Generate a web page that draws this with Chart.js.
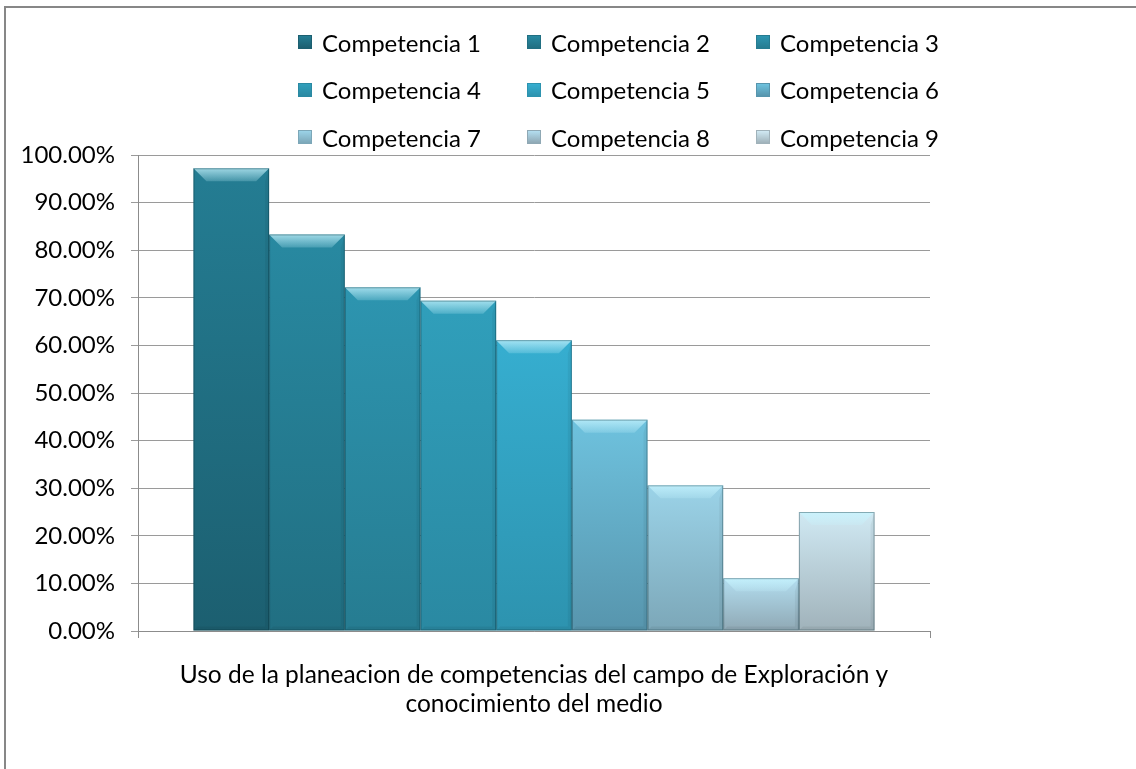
<!DOCTYPE html>
<html>
<head>
<meta charset="utf-8">
<script src="https://cdn.jsdelivr.net/npm/chart.js@4.4.0/dist/chart.umd.min.js"></script>
<style>
  html, body { margin: 0; padding: 0; background: #fff; }
  #wrap { position: relative; width: 1136px; height: 769px; overflow: hidden; }
  #frame { position: absolute; left: 4px; top: 6px; right: -10px; bottom: -10px;
           border-left: 2px solid #878787; border-top: 2px solid #878787; }
  canvas { position: absolute; left: 0; top: 0; }
  #legend { position: absolute; left: 0; top: 0; font-family: Lato, sans-serif; font-size: 24px; color: #000; }
  .item { position: absolute; display: flex; align-items: center; white-space: nowrap; height: 24px; }
  .sw { width: 14px; height: 14px; margin-right: 10px; box-sizing: border-box; }
</style>
</head>
<body>
<div id="wrap">
  <div id="frame"></div>
  <canvas id="myChart" width="1136" height="769"></canvas>
  <div id="legend"></div>
</div>
<script>
// Data
const categories = [""];
const seriesNames = ["Competencia 1", "Competencia 2", "Competencia 3", "Competencia 4", "Competencia 5",
                     "Competencia 6", "Competencia 7", "Competencia 8", "Competencia 9"];
const seriesValues = [97.2, 83.3, 72.2, 69.4, 61.1, 44.4, 30.6, 11.1, 25.0];
const yTickLabels = ["0.00%", "10.00%", "20.00%", "30.00%", "40.00%", "50.00%",
                     "60.00%", "70.00%", "80.00%", "90.00%", "100.00%"];
const xTitle = ["Uso de la planeacion de competencias del campo de Exploración y", "conocimiento del medio"];

// colours: top / bottom of each bar
const topColors = ["#247d93", "#2889a1", "#2d95b0", "#309fbb", "#36aed0", "#6ec2de", "#9bd3e8", "#b3def0", "#d0e9f3"];
const botColors = ["#1c5f70", "#216f82", "#267c91", "#2a89a2", "#2d93af", "#5795ad", "#7ca7b8", "#8fa8b4", "#a0b2ba"];

function barGradient(i) {
  return (ctx) => {
    const chart = ctx.chart;
    const area = chart.chartArea;
    if (!area) return topColors[i];
    const y = chart.scales.y.getPixelForValue(seriesValues[i]);
    const g = chart.ctx.createLinearGradient(0, y, 0, area.bottom);
    g.addColorStop(0, topColors[i]);
    g.addColorStop(1, botColors[i]);
    return g;
  };
}

// bevel look drawn on top of the bars
const bevelPlugin = {
  id: "bevel",
  afterDatasetsDraw(chart) {
    const c = chart.ctx;
    chart.data.datasets.forEach((ds, i) => {
      chart.getDatasetMeta(i).data.forEach((bar) => {
        const l = bar.x - bar.width / 2, r = bar.x + bar.width / 2;
        const t = bar.y, b = bar.base;
        const d = Math.min(13, (b - t) / 2);
        c.save();
        // top highlight
        const hg = c.createLinearGradient(0, t, 0, t + d);
        hg.addColorStop(0, "rgba(200,245,255,0.75)");
        hg.addColorStop(1, "rgba(200,245,255,0.2)");
        c.fillStyle = hg;
        c.beginPath();
        c.moveTo(l, t); c.lineTo(r, t); c.lineTo(r - d, t + d); c.lineTo(l + d, t + d); c.closePath();
        c.fill();
        // right side
        c.fillStyle = "rgba(0,0,0,0.05)";
        c.beginPath();
        c.moveTo(r, t); c.lineTo(r - 4, t + d); c.lineTo(r - 4, b - 4); c.lineTo(r, b); c.closePath();
        c.fill();
        // bottom
        c.fillStyle = "rgba(0,0,0,0.06)";
        c.beginPath();
        c.moveTo(l, b); c.lineTo(l + 4, b - 4); c.lineTo(r - 4, b - 4); c.lineTo(r, b); c.closePath();
        c.fill();
        // outline
        c.strokeStyle = "rgba(0,40,50,0.35)";
        c.lineWidth = 1;
        c.strokeRect(l + 0.5, t + 0.5, r - l - 1, b - t - 1);
        c.restore();
      });
    });
  }
};

const datasets = seriesNames.map((name, i) => ({
  label: name,
  data: [seriesValues[i]],
  backgroundColor: barGradient(i),
  borderWidth: 0,
  barPercentage: 1.0,
  categoryPercentage: 0.86
}));

const ctx = document.getElementById("myChart").getContext("2d");
const chart = new Chart(ctx, {
  type: "bar",
  data: { labels: categories, datasets: datasets },
  options: {
    responsive: false,
    animation: false,
    layout: { padding: { left: 0, right: 206, top: 155, bottom: 0 } },
    plugins: { legend: { display: false }, tooltip: { enabled: false } },
    scales: {
      x: {
        grid: { offset: true, drawOnChartArea: false, drawTicks: true, tickLength: 7, color: "#8c8c8c" },
        border: { color: "#8c8c8c" },
        ticks: { display: false },
        title: {
          display: true, text: xTitle, color: "#000",
          font: { family: "Lato", size: 24.5, lineHeight: 1.2 },
          padding: { top: 0, bottom: 50 }
        },
        afterFit(s) { s.height = 138; }
      },
      y: {
        min: 0, max: 100,
        ticks: {
          stepSize: 10,
          callback: (v, i) => yTickLabels[i],
          color: "#000",
          font: { family: "Lato", size: 24 },
          padding: 16
        },
        grid: { color: "#9a9a9a", tickLength: 7 },
        border: { color: "#8c8c8c" },
        afterFit(s) { s.width = 138; }
      }
    }
  },
  plugins: [bevelPlugin]
});

// Legend (3 columns)
const legend = document.getElementById("legend");
chart.data.datasets.forEach((ds, i) => {
  const item = document.createElement("div");
  item.className = "item";
  item.style.left = (298 + (i % 3) * 229) + "px";
  item.style.top = (30 + Math.floor(i / 3) * 47.5) + "px";
  const sw = document.createElement("span");
  sw.className = "sw";
  sw.style.background = "linear-gradient(" + topColors[i] + ", " + botColors[i] + ")";
  sw.style.border = "1px solid " + botColors[i];
  item.appendChild(sw);
  item.appendChild(document.createTextNode(ds.label));
  legend.appendChild(item);
});
</script>
</body>
</html>
